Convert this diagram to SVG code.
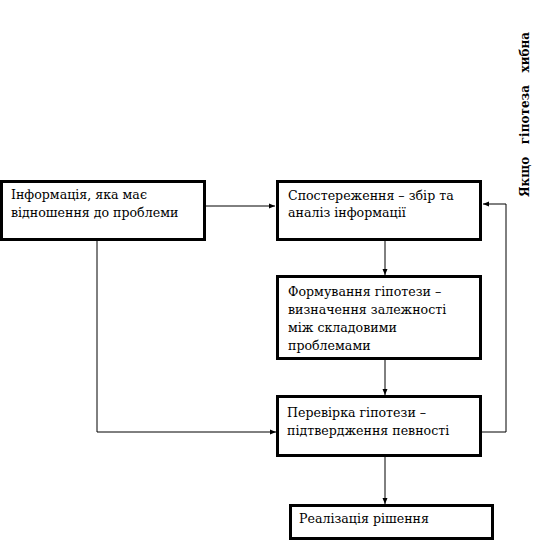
<svg xmlns="http://www.w3.org/2000/svg" width="542" height="542" viewBox="0 0 542 542">
<style>
.box{fill:#fff;stroke:#000;stroke-width:3}
.t{font-family:'DejaVu Serif','Liberation Serif',serif;font-size:12.6px;fill:#000}
.c{fill:none;stroke:#000;stroke-width:1}
.side{font-family:'DejaVu Serif','Liberation Serif',serif;font-size:12px;font-weight:bold;fill:#000;white-space:pre}
</style>
<defs>
<marker id="ah" markerWidth="6" markerHeight="6" refX="6" refY="3" orient="auto" markerUnits="userSpaceOnUse">
<path d="M0,0.5 L6,3 L0,5.5 Z" fill="#000"/>
</marker>
</defs>
<rect width="542" height="542" fill="#fff"/>
<g id="connectors">
<path class="c" d="M205,206 H275" marker-end="url(#ah)"/>
<path class="c" d="M97,240 V432 H276" marker-end="url(#ah)"/>
<path class="c" d="M385,240 V275" marker-end="url(#ah)"/>
<path class="c" d="M385,359 V395" marker-end="url(#ah)"/>
<path class="c" d="M385,456 V504" marker-end="url(#ah)"/>
<path class="c" d="M481,432 H506 V204 H483" marker-end="url(#ah)"/>
</g>
<g id="info">
<rect class="box" x="1.5" y="181.5" width="203" height="58"/>
<text class="t" x="11" y="199">Інформація, яка має</text>
<text class="t" x="11" y="217">відношення до проблеми</text>
</g>
<g id="observe">
<rect class="box" x="277.5" y="181.5" width="203" height="58"/>
<text class="t" x="288" y="200">Спостереження – збір та</text>
<text class="t" x="288" y="217">аналіз інформації</text>
</g>
<g id="hypothesis">
<rect class="box" x="277.5" y="276.5" width="203" height="82"/>
<text class="t" x="288" y="296">Формування гіпотези –</text>
<text class="t" x="288" y="314">визначення залежності</text>
<text class="t" x="288" y="332">між складовими</text>
<text class="t" x="288" y="350">проблемами</text>
</g>
<g id="verify">
<rect class="box" x="277.5" y="396.5" width="203" height="59"/>
<text class="t" x="287" y="417">Перевірка гіпотези –</text>
<text class="t" x="287" y="435">підтвердження певності</text>
</g>
<g id="realize">
<rect class="box" x="290.5" y="505.5" width="202" height="33"/>
<text class="t" x="299" y="523">Реалізація рішення</text>
</g>
<g id="label">
<text class="side" transform="translate(529,197) rotate(-90)">Якщо   гіпотеза   хибна</text>
</g>
</svg>
